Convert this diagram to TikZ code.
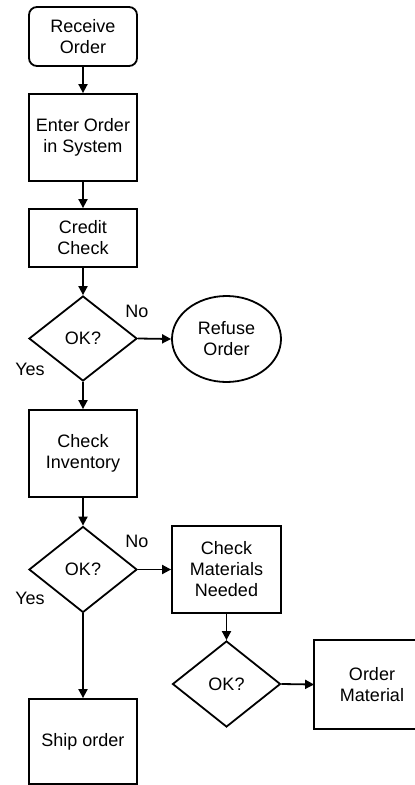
\documentclass[tikz,border=0pt]{standalone}
\usepackage{fontspec}
\setmainfont{Liberation Sans}
\usetikzlibrary{shapes.geometric,arrows.meta}
\tikzset{
  every node/.style={font=\fontsize{18}{21}\selectfont, align=center, text=black},
  boxnode/.style={draw, line width=1.8pt, rectangle, minimum width=108pt, inner sep=0pt},
  openbox/.style={rectangle, line width=1.8pt, minimum width=108pt, inner sep=0pt},
  roundnode/.style={draw, line width=1.8pt, rectangle, rounded corners=8pt, minimum width=108pt, minimum height=59pt, inner sep=0pt},
  decnode/.style={draw, line width=1.8pt, diamond, minimum width=108pt, minimum height=86pt, inner sep=0pt},
  endnode/.style={draw, line width=1.8pt, ellipse, minimum width=109pt, minimum height=86pt, inner sep=0pt},
  lbl/.style={inner sep=0pt},
  edge3/.style={line width=1.8pt},
  flow/.style={line width=1.8pt, -{Triangle[length=9pt,width=9pt]}},
}
\begin{document}
\begin{tikzpicture}[x=1pt,y=-1pt]
\useasboundingbox (0,0) rectangle (415,785);
\clip (0,0) rectangle (415,785);
\fill[white] (0,0) rectangle (415,785);
\node[roundnode] (recv) at (83,36.5) {Receive\\Order};
\node[boxnode, minimum height=87pt] (enter) at (83,137.5) {Enter Order\\in System};
\node[boxnode, minimum height=58pt] (credit) at (83,238) {Credit\\Check};
\node[decnode, minimum height=85pt] (d1) at (83,338.5) {OK?};
\node[endnode] (refuse) at (226.5,339) {Refuse\\Order};
\node[boxnode, minimum height=87pt] (inv) at (83,453.5) {Check\\Inventory};
\node[decnode] (d2) at (83,569.5) {OK?};
\node[boxnode, minimum width=109pt, minimum height=87pt] (mat) at (226.5,569.5) {Check\\Materials\\Needed};
\node[decnode] (d3) at (226.5,684) {OK?};
\node[openbox, minimum width=114pt, minimum height=87pt] (ordm) at (372,684.5) {Order\\Material};
\draw[edge3] ([xshift=20pt]ordm.north east) -- (ordm.north west) -- (ordm.south west) -- ([xshift=20pt]ordm.south east);
\node[boxnode, minimum height=85pt] (ship) at (83,741.5) {Ship order};
\node[lbl] (no1) at (137,311) {No};
\node[lbl] (yes1) at (30,369) {Yes};
\node[lbl] (no2) at (137,541) {No};
\node[lbl] (yes2) at (30,598) {Yes};
\draw[flow] (recv.south) -- (enter.north);
\draw[flow] (enter.south) -- (credit.north);
\draw[flow] (credit.south) -- (d1.north);
\draw[flow] (d1.east) -- (refuse.west);
\draw[flow] (d1.south) -- (inv.north);
\draw[flow] (inv.south) -- (d2.north);
\draw[flow] (d2.east) -- (mat.west);
\draw[flow] (d2.south) -- (ship.north);
\draw[flow] (mat.south) -- (d3.north);
\draw[flow] (d3.east) -- (ordm.west);
\end{tikzpicture}
\end{document}
